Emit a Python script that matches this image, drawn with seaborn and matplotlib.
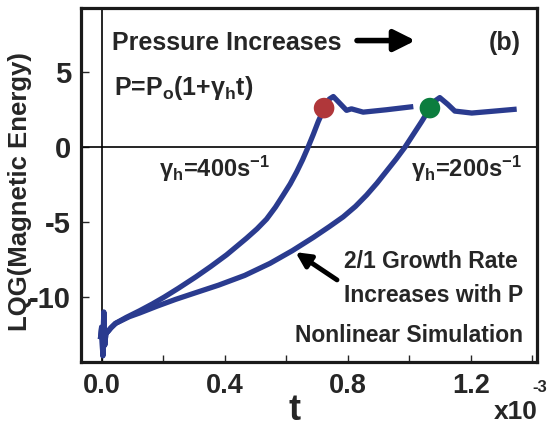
import matplotlib
matplotlib.use("Agg")
import matplotlib.pyplot as plt
import seaborn as sns
import pandas as pd

# ---- data (t in units of 1e-3 s) ----
t_400 = [-0.004, 0.0, 0.004, 0.007, 0.010, 0.014, 0.02, 0.03, 0.045, 0.08, 0.124, 0.165,
         0.203, 0.25, 0.306, 0.355, 0.406, 0.44, 0.471, 0.505, 0.536, 0.565, 0.590,
         0.613, 0.634, 0.653, 0.671, 0.688, 0.704, 0.715, 0.723, 0.740, 0.753, 0.775,
         0.796, 0.812, 0.850, 0.926, 1.013]
y_400 = [-12.8, -12.0, -13.9, -11.0, -13.2, -12.4, -12.3, -12.05, -11.75, -11.35, -10.9, -10.45,
         -10.0, -9.4, -8.65, -7.95, -7.18, -6.6, -6.07, -5.45, -4.8, -4.0, -3.2,
         -2.45, -1.65, -0.85, 0.0, 0.85, 1.7, 2.2, 2.6, 3.2, 3.37, 2.9,
         2.45, 2.55, 2.33, 2.49, 2.7]
t_200 = [-0.004, 0.0, 0.004, 0.007, 0.010, 0.014, 0.02, 0.03, 0.045, 0.09, 0.124, 0.18,
         0.24, 0.306, 0.38, 0.465, 0.547, 0.62, 0.688, 0.74, 0.785, 0.825, 0.861,
         0.895, 0.926, 0.957, 0.986, 1.013, 1.040, 1.055, 1.067, 1.085, 1.099,
         1.125, 1.148, 1.203, 1.26, 1.349]
y_200 = [-12.8, -12.0, -13.9, -11.0, -13.2, -12.4, -12.3, -12.05, -11.75, -11.3, -11.05, -10.6,
         -10.15, -9.7, -9.2, -8.55, -7.75, -6.9, -6.02, -5.3, -4.65, -3.95, -3.2,
         -2.4, -1.6, -0.8, 0.0, 0.85, 1.7, 2.2, 2.6, 3.1, 3.3,
         2.85, 2.4, 2.27, 2.37, 2.53]
sat_t = [0.723, 1.067]
sat_y = [2.6, 2.6]
sat_colors = ["#b0373a", "#0b7d3e"]
xticks_major = [0.0, 0.4, 0.8, 1.2]
xtick_labels = ["0.0", "0.4", "0.8", "1.2"]
xticks_minor = [0.2, 0.6, 1.0, 1.4]
yticks = [-10, -5, 0, 5]
ytick_labels = ["-10", "-5", "0", "5"]

sns.set_style("white")
plt.rcParams["font.family"] = ["Liberation Sans", "DejaVu Sans"]
plt.rcParams["font.weight"] = "bold"
plt.rcParams["axes.unicode_minus"] = False
plt.rcParams["mathtext.fontset"] = "custom"
plt.rcParams["mathtext.rm"] = "Liberation Sans:bold"
plt.rcParams["mathtext.it"] = "Liberation Sans:bold"
plt.rcParams["mathtext.bf"] = "Liberation Sans:bold"

fig = plt.figure(figsize=(5.48, 4.26), dpi=100)
ax = fig.add_axes([80.7 / 548, 1 - 361.7 / 426, (537 - 80.7) / 548, (361.7 - 8) / 426])

line_color = "#2a3b8f"
df_a = pd.DataFrame({"t": t_400, "y": y_400})
df_b = pd.DataFrame({"t": t_200, "y": y_200})
for df in (df_a, df_b):
    sns.lineplot(data=df, x="t", y="y", ax=ax, color=line_color, lw=3.8, sort=False,
                 estimator=None, solid_capstyle="butt", solid_joinstyle="round", zorder=3)
df_s = pd.DataFrame({"t": sat_t, "y": sat_y, "c": ["r", "g"]})
sns.scatterplot(data=df_s, x="t", y="y", hue="c", palette=sat_colors, s=220,
                edgecolor="none", legend=False, ax=ax, zorder=4)

ax.axhline(0, color="black", lw=1.2, zorder=2)
ax.axvline(0, color="black", lw=1.2, zorder=2)

ax.set_xlim(-0.068, 1.415)
ax.set_ylim(-14.3, 9.27)
ax.set_xticks(xticks_major)
ax.set_xticklabels(xtick_labels)
ax.set_xticks(xticks_minor, minor=True)
ax.set_yticks(yticks)
ax.set_yticklabels(ytick_labels)
ax.tick_params(axis="x", which="both", direction="in", length=5, width=1, pad=8,
               labelsize=19.5, top=False, bottom=True)
ax.tick_params(axis="y", which="both", direction="in", length=6, width=1, pad=7,
               labelsize=21, left=True, right=False)
for lab in ax.get_xticklabels() + ax.get_yticklabels():
    lab.set_fontweight("bold")
for s in ax.spines.values():
    s.set_linewidth(2.3)
    s.set_color("#1a1a1a")
ax.set_xlabel("")
ax.set_ylabel("")

# axis labels
fig.text(20 / 548, 1 - 192 / 426, "LQG(Magnetic Energy)", rotation=90, ha="center",
         va="center", fontsize=18.5, fontweight="bold")
fig.text(295 / 548, 1 - 410 / 426, "t", ha="center", va="center", fontsize=26,
         fontweight="bold")
fig.text(494 / 548, 1 - 419 / 426, "x10", ha="left", va="baseline", fontsize=19,
         fontweight="bold")
fig.text(547 / 548, 1 - 392 / 426, "-3", ha="right", va="baseline", fontsize=12,
         fontweight="bold")

# annotations
ax.text(0.034, 6.49, "Pressure Increases", fontsize=18, fontweight="bold", ha="left",
        va="baseline")
ax.annotate("", xy=(1.02, 7.1), xytext=(0.83, 7.1),
            arrowprops=dict(arrowstyle="-|>", lw=4, color="black", mutation_scale=32,
                            shrinkA=0, shrinkB=0))
ax.text(1.363, 6.95, "(b)", fontsize=18, fontweight="bold", ha="right", va="center")
ax.text(0.04, 3.48, r"P=P$_\mathrm{o}$(1+γ$_\mathrm{h}$t)", fontsize=18, fontweight="bold",
        ha="left", va="baseline")
ax.text(0.187, -2.0, r"γ$_\mathrm{h}$=400s$^\mathrm{-1}$", fontsize=17, fontweight="bold",
        ha="left", va="baseline")
ax.text(1.005, -2.0, r"γ$_\mathrm{h}$=200s$^\mathrm{-1}$", fontsize=17, fontweight="bold",
        ha="left", va="baseline")
ax.text(0.788, -8.05, "2/1 Growth Rate", fontsize=16.5, fontweight="bold", ha="left",
        va="baseline")
ax.text(0.788, -10.3, "Increases with P", fontsize=16.5, fontweight="bold", ha="left",
        va="baseline")
ax.text(0.628, -13.0, "Nonlinear Simulation", fontsize=16.5, fontweight="bold", ha="left",
        va="baseline")
ax.annotate("", xy=(0.63, -7.0), xytext=(0.765, -8.85),
            arrowprops=dict(arrowstyle="-|>", lw=3.5, color="black", mutation_scale=22,
                            shrinkA=0, shrinkB=0))

fig.savefig("out.png", dpi=100)
